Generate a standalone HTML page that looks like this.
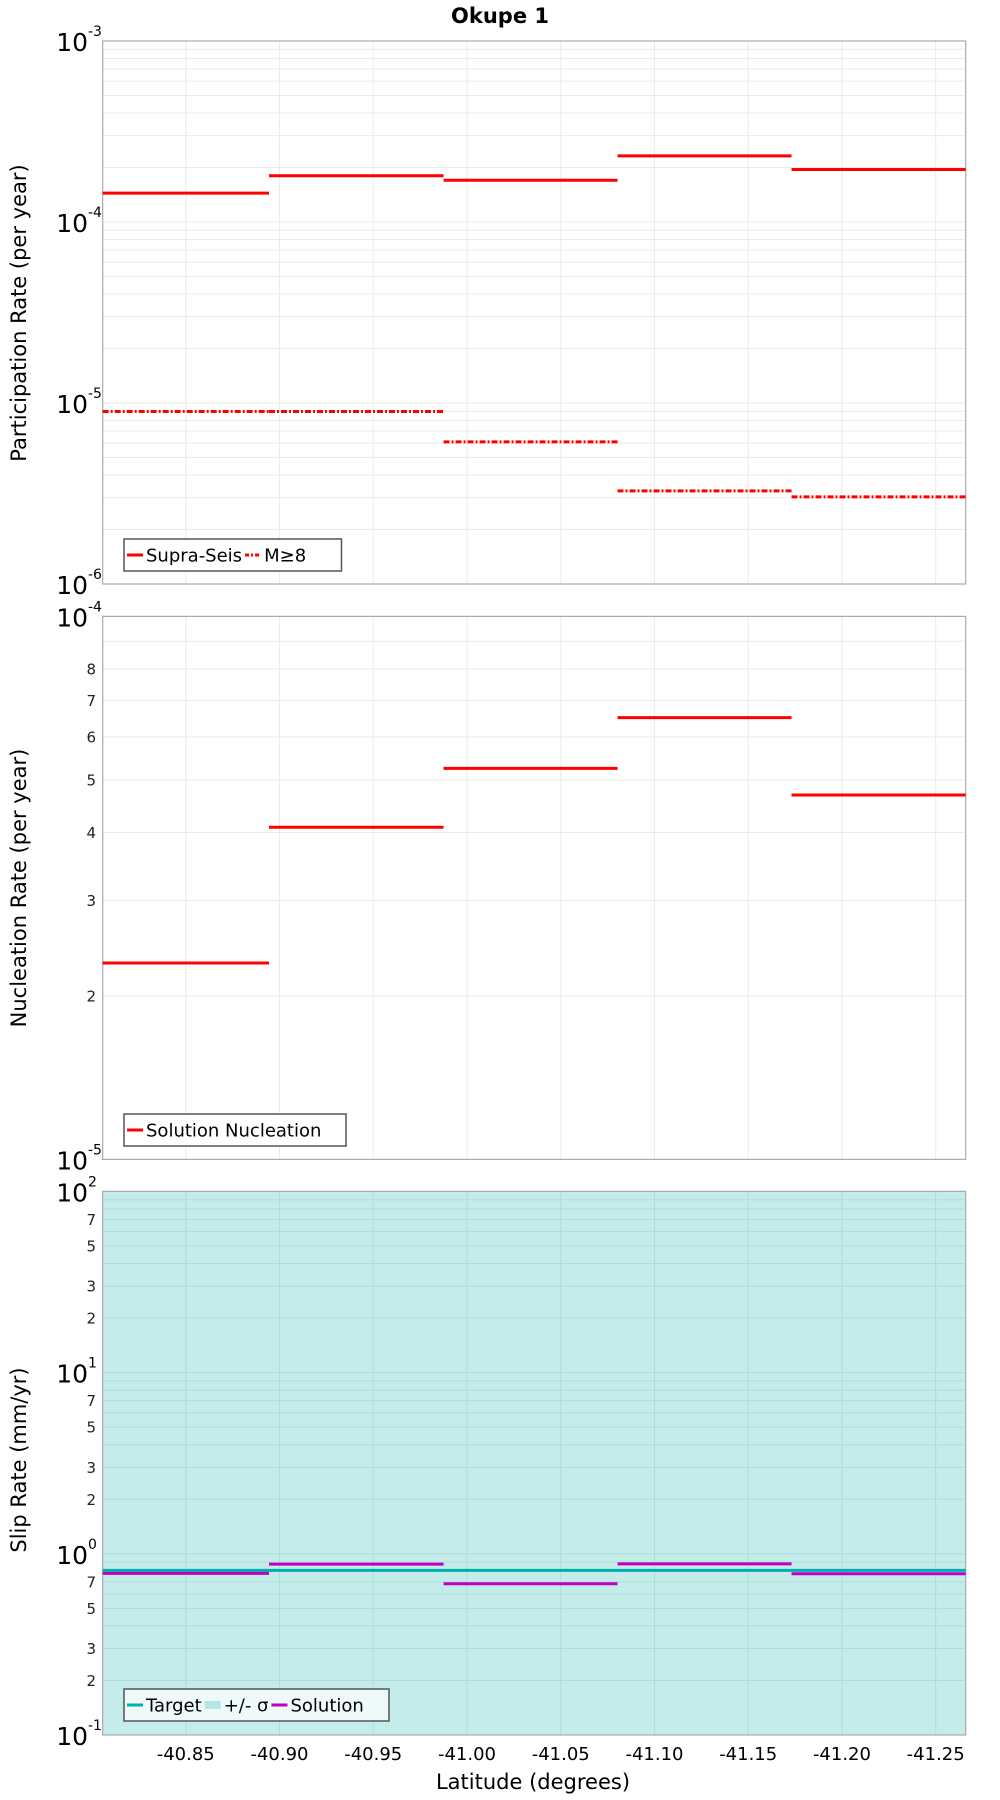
<!DOCTYPE html>
<html><head><meta charset="utf-8"><style>
html,body{margin:0;padding:0;background:#fff;}
svg{display:block;font-family:"DejaVu Sans","Liberation Sans",sans-serif;}
</style></head><body>
<svg id="chart" width="1000" height="1800" viewBox="0 0 1000 1800" xmlns="http://www.w3.org/2000/svg">
<text x="500" y="23" text-anchor="middle" font-size="21" font-weight="bold">Okupe 1</text>
<g id="g1"></g>
<g id="g2"></g>
<g id="g3"></g>
<text x="533" y="1789" text-anchor="middle" font-size="21">Latitude (degrees)</text>
</svg>
<script>
// data
const segBounds = [-40.8057, -40.8944, -40.9875, -41.0803, -41.1731, -41.266];
const xTicks = [-40.85, -40.90, -40.95, -41.00, -41.05, -41.10, -41.15, -41.20, -41.25];
const xTickLabels = ["-40.85","-40.90","-40.95","-41.00","-41.05","-41.10","-41.15","-41.20","-41.25"];
const supraSeis = [1.445e-4, 1.80e-4, 1.70e-4, 2.32e-4, 1.95e-4];
const mGe8 = [8.98e-6, 8.98e-6, 6.10e-6, 3.27e-6, 3.03e-6];
const nucleation = [2.30e-5, 4.09e-5, 5.25e-5, 6.51e-5, 4.69e-5];
const slipTarget = [0.81, 0.81, 0.81, 0.81, 0.81];
const slipSolution = [0.78, 0.877, 0.684, 0.88, 0.776];
const sigmaLow = 0.1, sigmaHigh = 100;

const NS = "http://www.w3.org/2000/svg";
const L = 102.7, R = 965.7;
const xMin = -40.8057, xMax = -41.266;
function xs(v){ return L + (v - xMin) / (xMax - xMin) * (R - L); }
function mk(tag, attrs, parent){ const e = document.createElementNS(NS, tag); for (const k in attrs) e.setAttribute(k, attrs[k]); parent.appendChild(e); return e; }

function panel(g, top, bot, lmin, lmax, minorLabels, bgColor){
  const ys = v => bot - (Math.log10(v) - lmin) / (lmax - lmin) * (bot - top);
  if (bgColor){
    const bg = mk('rect', {x:L, y:ys(sigmaHigh), width:R-L, height:ys(sigmaLow)-ys(sigmaHigh), fill:bgColor}, g);
    
    
  }
  const gc = bgColor ? '#b0dcda' : '#ebebeb';
  for (let d = lmin; d < lmax; d++){
    for (let m = 2; m < 10; m++){
      const v = m * Math.pow(10, d);
      const y = ys(v);
      mk('line', {x1:L, x2:R, y1:y, y2:y, stroke:gc, 'stroke-width':1}, g);
      if (minorLabels.includes(m)){
        const t = mk('text', {x:96, y:y+5.5, 'text-anchor':'end', 'font-size':15, fill:'#222'}, g);
        t.textContent = String(m);
        
        
      }
    }
  }
  for (let d = lmin; d <= lmax; d++){
    const y = ys(Math.pow(10, d));
    mk('line', {x1:L, x2:R, y1:y, y2:y, stroke:gc, 'stroke-width':1}, g);
    const t = mk('text', {x:88, y:y+10, 'text-anchor':'end', 'font-size':25}, g);
    t.textContent = '10';
    
    
    const s = mk('text', {x:88, y:y-5, 'text-anchor':'start', 'font-size':14}, g);
    s.textContent = (d < 0 ? '-' : '') + Math.abs(d);
    
    
  }
  xTicks.forEach(v => mk('line', {x1:xs(v), x2:xs(v), y1:top, y2:bot, stroke:gc, 'stroke-width':1}, g));
  mk('rect', {x:L, y:top, width:R-L, height:bot-top, fill:'none', stroke:'#aaa', 'stroke-width':1.2}, g);
  return ys;
}

function steps(g, vals, ys, color, name, dash){
  vals.forEach((v, i) => {
    const a = {x1:xs(segBounds[i]), x2:xs(segBounds[i+1]), y1:ys(v), y2:ys(v), stroke:color, 'stroke-width':3};
    if (dash) a['stroke-dasharray'] = dash;
    const l = mk('line', a, g);
    
    
  });
}

function legend(g, x, y, w, items, fillColor){
  const box = mk('rect', {x:x, y:y, width:w, height:32, fill:fillColor, stroke:'#555', 'stroke-width':1.5}, g);
  
  
  let cx = x + 3;
  items.forEach(it => {
    const a = {x1:cx, x2:cx+16, y1:y+16, y2:y+16, stroke:it.color, 'stroke-width':it.w || 3};
    if (it.dash) a['stroke-dasharray'] = it.dash;
    mk('line', a, g);
    const t = mk('text', {x:cx+19, y:y+22.5, 'font-size':18}, g);
    t.textContent = it.label;
    
    
    let tw = 0;
    try { tw = t.getComputedTextLength(); } catch(e) { tw = it.label.length * 10; }
    cx += 19 + tw + 3;
  });
}

function ytitle(g, cy, text){
  const t = mk('text', {x:0, y:0, transform:`translate(26,${cy}) rotate(-90)`, 'text-anchor':'middle', 'font-size':21}, g);
  t.textContent = text;
  
  
}

// Panel 1
const g1 = document.getElementById('g1');
const ys1 = panel(g1, 41, 584, -6, -3, [], null);
steps(g1, supraSeis, ys1, '#ff0000', 'supra-seis-step');
steps(g1, mGe8, ys1, '#ff0000', 'm8-step', '6,2,2,2');
legend(g1, 124, 539, 217.5, [{label:'Supra-Seis', color:'#ff0000'}, {label:'M≥8', color:'#ff0000', dash:'4,2,2,2'}], '#fff');
ytitle(g1, 313, 'Participation Rate (per year)');

// Panel 2
const g2 = document.getElementById('g2');
const ys2 = panel(g2, 616.4, 1159.4, -5, -4, [2,3,4,5,6,7,8], null);
steps(g2, nucleation, ys2, '#ff0000', 'nucleation-step');
legend(g2, 124, 1114, 222, [{label:'Solution Nucleation', color:'#ff0000'}], '#fff');
ytitle(g2, 888, 'Nucleation Rate (per year)');

// Panel 3
const g3 = document.getElementById('g3');
const ys3 = panel(g3, 1191.4, 1735, -1, 2, [2,3,5,7], '#c3ecea');
steps(g3, slipTarget, ys3, '#00b0b0', 'target-step');
steps(g3, slipSolution, ys3, '#c000c0', 'solution-step');
legend(g3, 124, 1689, 265, [{label:'Target', color:'#00b0b0'}, {label:'+/- σ', color:'#b5e6e4', w:8}, {label:'Solution', color:'#c000c0'}], '#eefafa');
ytitle(g3, 1460, 'Slip Rate (mm/yr)');

// x tick labels
const svg = document.getElementById('chart');
xTicks.forEach((v, i) => {
  const t = mk('text', {x:xs(v), y:1760, 'text-anchor':'middle', 'font-size':18}, svg);
  t.textContent = xTickLabels[i];
  
  
});
</script>
</body></html>
